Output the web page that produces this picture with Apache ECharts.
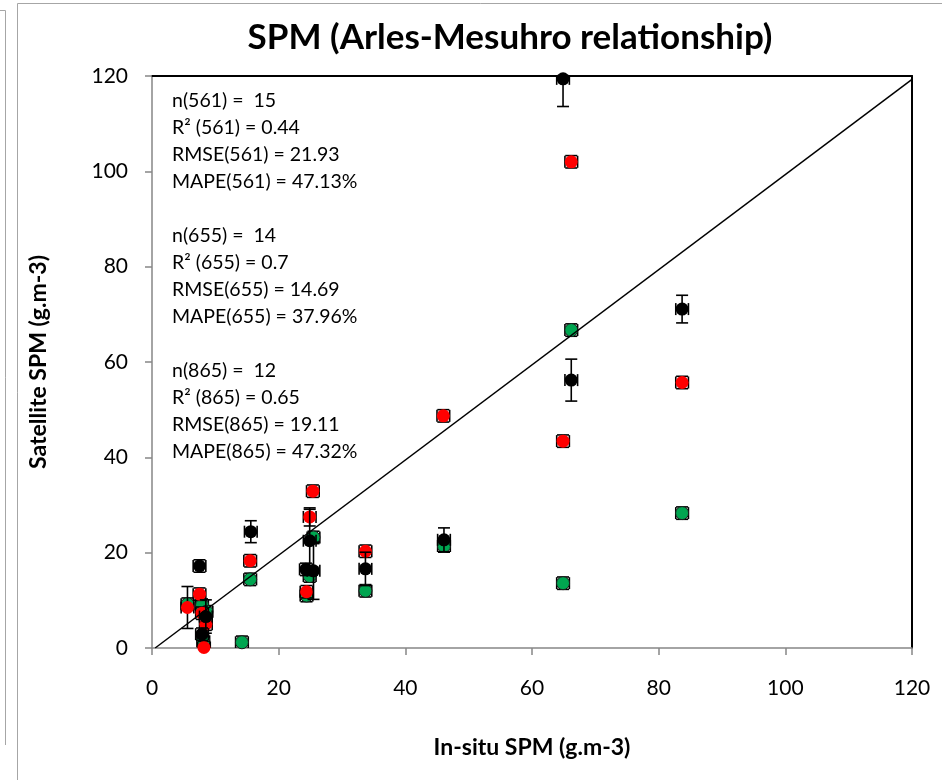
<!DOCTYPE html>
<html>
<head>
<meta charset="utf-8">
<script src="https://cdn.jsdelivr.net/npm/echarts@6/dist/echarts.min.js"></script>
<style>
html,body{margin:0;padding:0;background:#fff;}
#chart{width:942px;height:780px;}
</style>
</head>
<body>
<div id="chart"></div>
<script>
// ---- Data ----
// 865 nm (black)
const x865 = [64.9, 66.2, 83.7, 46.1, 33.7, 15.6, 24.9, 24.3, 25.5, 7.5, 8.5, 7.9];
const y865 = [119.4, 56.2, 71.1, 22.7, 16.6, 24.4, 22.5, 16.5, 16.2, 17.2, 6.6, 2.9];
const yErr865 = [5.8, 4.4, 2.9, 2.5, 3.5, 2.3, 6.6, 1.3, 6.0, 1.3, 3.5, 1.3];
const xErr865 = [1, 1, 1, 1, 1, 1, 1, 1, 1, 1, 1, 1];
// 655 nm (red)
const x655 = [66.2, 64.9, 83.7, 46.0, 33.7, 25.4, 24.9, 24.4, 15.5, 7.5, 5.6, 7.9, 8.5, 8.2];
const y655 = [102.0, 43.4, 55.7, 48.7, 20.3, 32.9, 27.5, 11.8, 18.3, 11.3, 8.5, 7.3, 5.0, 0.1];
const yErr655 = [1.3, 1.3, 1.3, 1.3, 1.3, 1.3, 1.9, 1.3, 1.3, 1.3, 4.4, 1.3, 1.3, 1.3];
const xErr655 = [1, 1, 1, 1, 1, 1, 1, 1, 1, 1, 1, 1, 1, 1];
// 561 nm (green)
const x561 = [66.2, 64.9, 83.7, 46.1, 33.7, 25.5, 24.9, 24.4, 15.5, 14.2, 5.6, 7.9, 8.6, 8.1];
const y561 = [66.7, 13.6, 28.3, 21.4, 12.0, 23.2, 15.1, 11.0, 14.4, 1.2, 9.2, 9.0, 7.6, 1.4];
const yErr561 = [1.3, 1.3, 1.3, 1.3, 1.3, 1.3, 1.3, 1.3, 1.3, 1.3, 1.3, 1.3, 1.3, 1.3];
const xErr561 = [1, 1, 1, 1, 1, 1, 1, 1, 1, 1, 1, 1, 1, 1];
// 1:1 reference line
const oneToOne = [[0.5, 0], [120, 119.3]];
// axis ticks
const axisMin = 0, axisMax = 120, axisStep = 20;
// statistics text
const stats = [
  'n(561) =  15', 'R² (561) = 0.44', 'RMSE(561) = 21.93', 'MAPE(561) = 47.13%', '',
  'n(655) =  14', 'R² (655) = 0.7', 'RMSE(655) = 14.69', 'MAPE(655) = 37.96%', '',
  'n(865) =  12', 'R² (865) = 0.65', 'RMSE(865) = 19.11', 'MAPE(865) = 47.32%'
];

const FONT = 'Lato, "Liberation Sans", sans-serif';

function errSeries(xs, ys, ye, xe, z) {
  return {
    type: 'custom',
    z: z,
    clip: true,
    silent: true,
    data: xs.map((x, i) => [x, ys[i], ye[i], xe[i]]),
    encode: { x: 0, y: 1 },
    renderItem: function (params, api) {
      const x = api.value(0), y = api.value(1), ey = api.value(2), ex = api.value(3);
      const t = api.coord([x, y + ey]);
      const b = api.coord([x, y - ey]);
      const l = api.coord([x - ex, y]);
      const r = api.coord([x + ex, y]);
      const h = 6;
      const st = { stroke: '#000', lineWidth: 1.6 };
      const seg = (x1, y1, x2, y2) => ({ type: 'line', shape: { x1, y1, x2, y2 }, style: st });
      return {
        type: 'group',
        children: [
          seg(t[0], t[1], b[0], b[1]),
          seg(t[0] - h, t[1], t[0] + h, t[1]),
          seg(b[0] - h, b[1], b[0] + h, b[1]),
          seg(l[0], l[1], r[0], r[1]),
          seg(l[0], l[1] - h, l[0], l[1] + h),
          seg(r[0], r[1] - h, r[0], r[1] + h)
        ]
      };
    }
  };
}

function scatter(xs, ys, color, border, z) {
  return {
    type: 'scatter',
    z: z,
    symbol: 'circle',
    symbolSize: 13,
    itemStyle: { color: color, borderColor: border, borderWidth: border ? 1 : 0, opacity: 1 },
    data: xs.map((x, i) => [x, ys[i]])
  };
}

const chart = echarts.init(document.getElementById('chart'), null, { renderer: 'canvas' });
chart.setOption({
  animation: false,
  backgroundColor: '#fff',
  textStyle: { fontFamily: FONT },
  grid: { left: 152, right: 30, top: 76, bottom: 132 },
  xAxis: [{
    type: 'value', min: axisMin, max: axisMax, interval: axisStep,
    name: 'In-situ SPM (g.m-3)', nameLocation: 'middle', nameGap: 88,
    nameTextStyle: { fontFamily: FONT, fontWeight: 'bold', fontSize: 23, color: '#000' },
    axisLine: { show: true, lineStyle: { color: '#868686', width: 1.5 } },
    axisTick: { show: true, inside: false, length: 7, lineStyle: { color: '#868686', width: 1.5 } },
    axisLabel: { fontFamily: FONT, fontSize: 21, color: '#000', margin: 30 },
    splitLine: { show: false }
  }, {
    type: 'value', min: axisMin, max: axisMax, position: 'top',
    axisLine: { show: true, onZero: false, lineStyle: { color: '#000', width: 2 } },
    axisTick: { show: false }, axisLabel: { show: false }, splitLine: { show: false }
  }],
  yAxis: [{
    type: 'value', min: axisMin, max: axisMax, interval: axisStep,
    name: 'Satellite SPM (g.m-3)', nameLocation: 'middle', nameGap: 102,
    nameTextStyle: { fontFamily: FONT, fontWeight: 'bold', fontSize: 23, color: '#000' },
    axisLine: { show: true, lineStyle: { color: '#868686', width: 1.5 } },
    axisTick: { show: true, inside: false, length: 7, lineStyle: { color: '#868686', width: 1.5 } },
    axisLabel: { fontFamily: FONT, fontSize: 21, color: '#000', margin: 24 },
    splitLine: { show: false }
  }, {
    type: 'value', min: axisMin, max: axisMax, position: 'right',
    axisLine: { show: true, onZero: false, lineStyle: { color: '#000', width: 2 } },
    axisTick: { show: false }, axisLabel: { show: false }, splitLine: { show: false }
  }],
  graphic: [
    { type: 'rect', shape: { x: 17.5, y: 3.5, width: 940, height: 790 }, style: { fill: 'none', stroke: '#a6a6a6', lineWidth: 1 }, silent: true, z: -1 },
    { type: 'polyline', shape: { points: [[0, 10.5], [5.5, 10.5], [5.5, 745]] }, style: { fill: 'none', stroke: '#a6a6a6', lineWidth: 1 }, silent: true, z: -1 },
    { type: 'text', x: 510, y: 38, style: { text: 'SPM (Arles-Mesuhro relationship)', font: 'bold 35px ' + FONT, fill: '#000', textAlign: 'center', textVerticalAlign: 'middle' }, z: 20 },
    { type: 'text', x: 172, y: 87.5, style: { text: stats.join('\n'), font: '19.5px ' + FONT, fill: '#000', lineHeight: 27, textAlign: 'left', textVerticalAlign: 'top' }, z: 20 }
  ],
  series: [
    errSeries(x561, y561, yErr561, xErr561, 2),
    scatter(x561, y561, '#00a550', '#1a1a1a', 3),
    errSeries(x655, y655, yErr655, xErr655, 4),
    scatter(x655, y655, '#ff0000', null, 5),
    errSeries(x865, y865, yErr865, xErr865, 6),
    scatter(x865, y865, '#000000', null, 7),
    {
      type: 'line', z: 10, silent: true, symbol: 'none',
      lineStyle: { color: '#000', width: 1.5 },
      data: oneToOne
    }
  ]
});
</script>
</body>
</html>
